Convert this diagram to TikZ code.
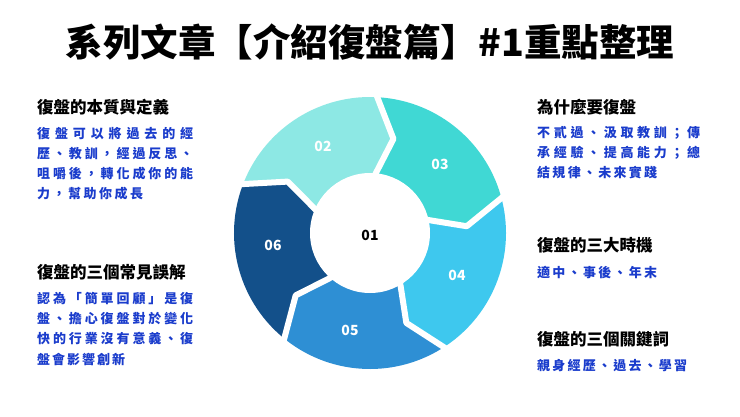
\documentclass[tikz,border=0pt]{standalone}
\usepackage{fontspec}
\setmainfont{Noto Sans CJK TC}
\definecolor{tb}{HTML}{1A3CCC}
\definecolor{cA}{HTML}{8DE8E4}
\definecolor{cB}{HTML}{40D8D4}
\definecolor{cC}{HTML}{3EC8EE}
\definecolor{cD}{HTML}{2E8FD4}
\definecolor{cE}{HTML}{13508A}
\def\spreadA#1{#1\spreadB}
\def\spreadB#1{\ifx#1\relax\else\hfil#1\expandafter\spreadB\fi}
\newcommand\jl[2]{\makebox[#1pt][s]{\spreadA #2\relax}}
\tikzset{
  head/.style={anchor=west,inner sep=0pt,font=\bfseries\fontsize{16.5}{18}\selectfont},
  body/.style={anchor=west,inner sep=0pt,text=tb,font=\bfseries\fontsize{13}{15}\selectfont},
  num/.style={text=white,font=\bfseries\fontsize{14}{16}\selectfont}
}
\begin{document}
\begin{tikzpicture}[x=1pt,y=-1pt]
\useasboundingbox (0,0) rectangle (740,416);
\fill[white] (0,0) rectangle (740,416);
\node[font=\bfseries\fontsize{37.5}{40}\selectfont] (title) at (370,42) {系列文章【介紹復盤篇】\#1重點整理};
\begin{scope}[shift={(370,233)},yscale=-1]
\foreach \s/\c in {160/cA,88/cB,16/cC,-56/cD,-128/cE}{
  \pgfmathsetmacro\e{\s-72}
  \fill[\c] (\s:136) arc[start angle=\s,end angle=\e,radius=136] -- (\e-12:97) -- (\e:59)
     arc[start angle=\e,end angle=\s,radius=59] -- (\s-12:97) -- cycle;
}
\foreach \a in {160,88,16,-56,-128}{
  \draw[white,line width=6pt,line join=round] (\a:142) -- (\a-12:97) -- (\a:52);
}
\fill[white] (0,0) circle[radius=60];
\end{scope}
\node[font=\bfseries\fontsize{14}{16}\selectfont] (n1) at (370,235) {01};
\node[num] (n2) at (323,146) {02};
\node[num] (n3) at (440,164) {03};
\node[num] (n4) at (457,275) {04};
\node[num] (n5) at (350,330) {05};
\node[num] (n6) at (273,245) {06};
% left
\node[head] (h1) at (37,107) {復盤的本質與定義};
\node[body] (b11) at (37,134) {\jl{156}{復盤可以將過去的經}};
\node[body] (b12) at (37,154) {\jl{156}{歷、教訓，經過反思、}};
\node[body] (b13) at (37,174) {\jl{156}{咀嚼後，轉化成你的能}};
\node[body] (b14) at (37,194) {\jl{106}{力，幫助你成長}};
\node[head] (h2) at (37,272) {復盤的三個常見誤解};
\node[body] (b21) at (37,299) {\jl{156}{認為「簡單回顧」是復}};
\node[body] (b22) at (37,319) {\jl{156}{盤、擔心復盤對於變化}};
\node[body] (b23) at (37,339) {\jl{156}{快的行業沒有意義、復}};
\node[body] (b24) at (37,359) {\jl{88}{盤會影響創新}};
% right
\node[head] (h3) at (537,107) {為什麼要復盤};
\node[body] (b31) at (537,133) {\jl{163}{不貳過、汲取教訓；傳}};
\node[body] (b32) at (537,153) {\jl{163}{承經驗、提高能力；總}};
\node[body] (b33) at (537,173) {\jl{120}{結規律、未來實踐}};
\node[head] (h4) at (537,245) {復盤的三大時機};
\node[body] (b41) at (537,272) {\jl{120}{適中、事後、年末}};
\node[head] (h5) at (537,339) {復盤的三個關鍵詞};
\node[body] (b51) at (537,366) {\jl{150}{親身經歷、過去、學習}};
\end{tikzpicture}
\end{document}
